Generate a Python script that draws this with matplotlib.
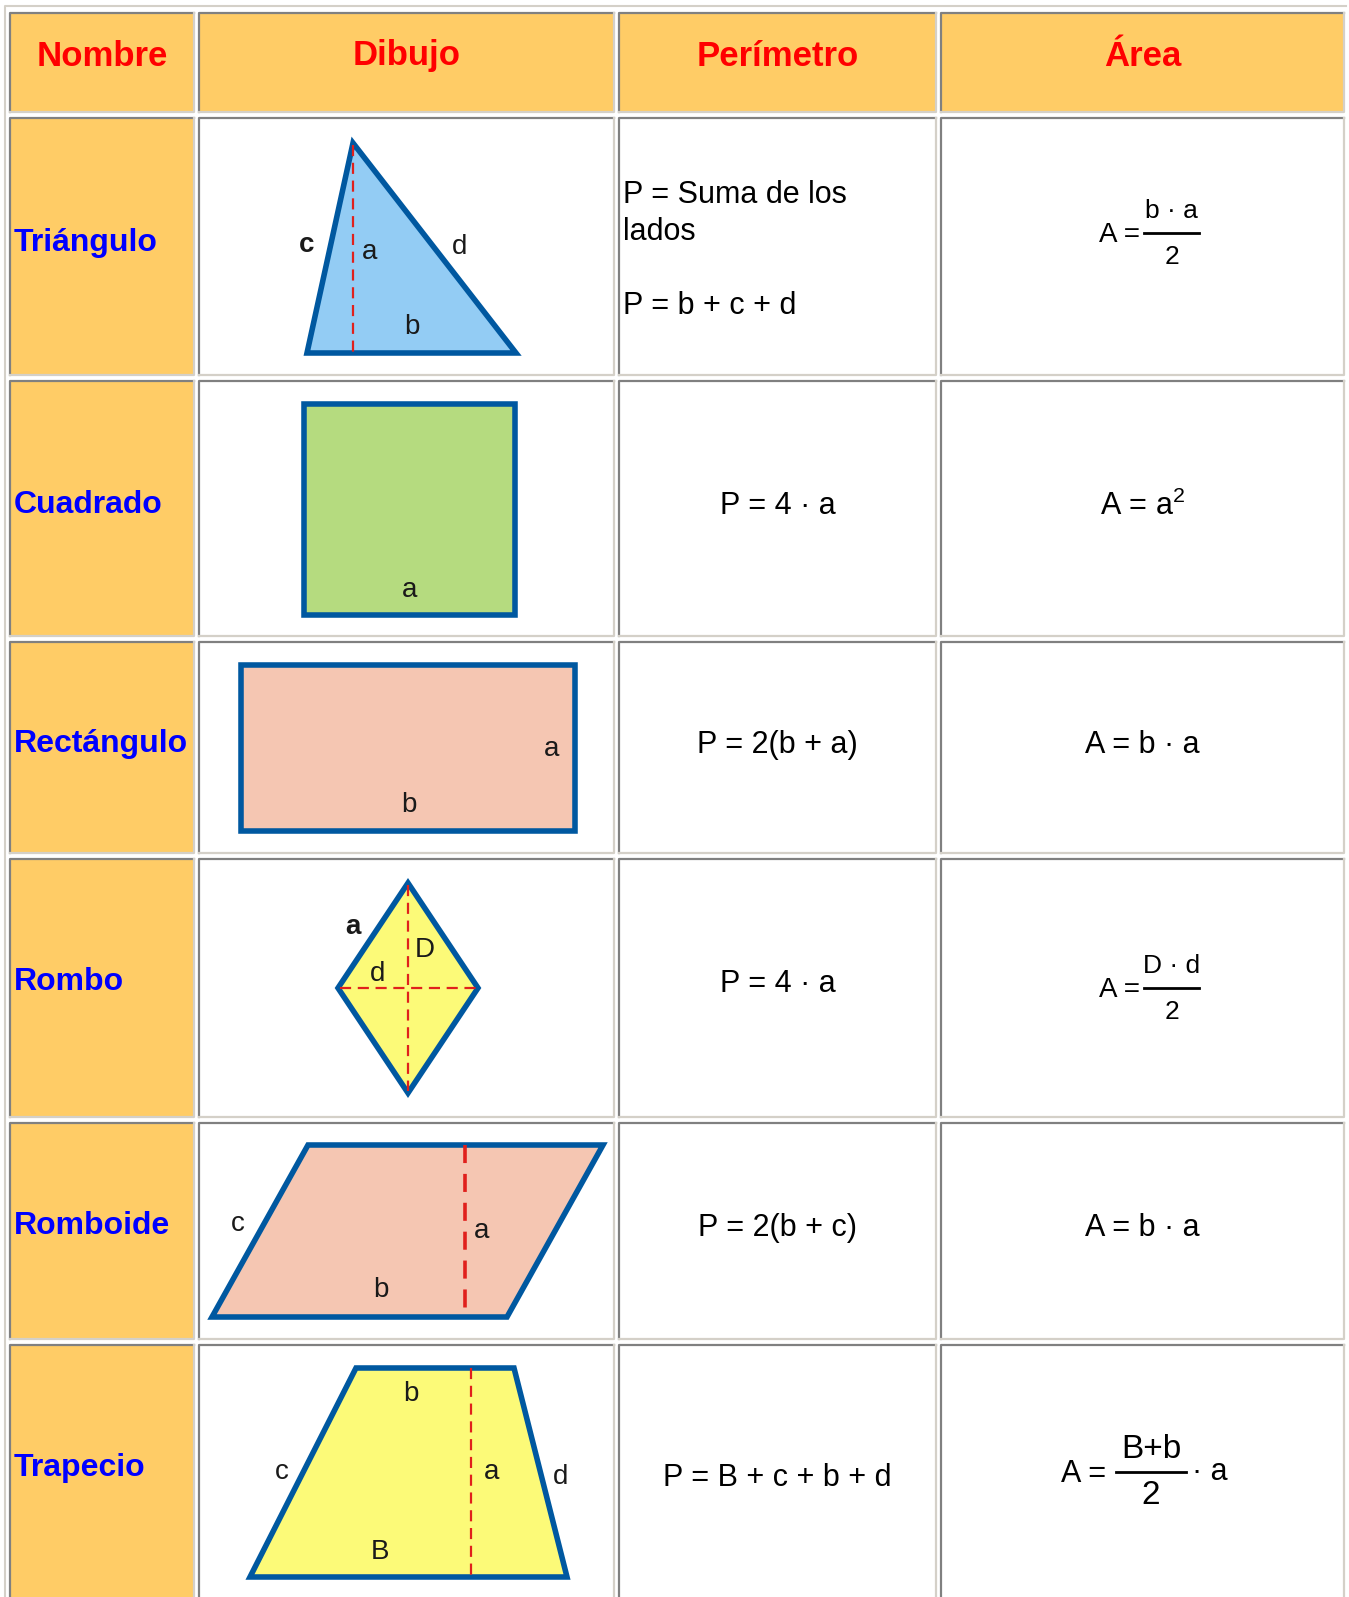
import matplotlib
matplotlib.use('Agg')
import matplotlib.pyplot as plt
from matplotlib.patches import Polygon, Rectangle

plt.rcParams['font.family'] = ['Liberation Sans', 'DejaVu Sans']
plt.rcParams['mathtext.fontset'] = 'custom'
plt.rcParams['mathtext.rm'] = 'Liberation Sans'
plt.rcParams['mathtext.it'] = 'Liberation Sans'

# table content
headers = ['Nombre', 'Dibujo', 'Perímetro', 'Área']
names = ['Triángulo', 'Cuadrado', 'Rectángulo', 'Rombo', 'Romboide', 'Trapecio']
perimetros = [['P = Suma de los', 'lados', '', 'P = b + c + d'],
              'P = 4 · a', 'P = 2(b + a)', 'P = 4 · a', 'P = 2(b + c)',
              'P = B + c + b + d']
# area: plain string, or (numerator, denominator, suffix)
areas = [('b · a', '2', ''), r'A = a$^{2}$', 'A = b · a', ('D · d', '2', ''),
         'A = b · a', ('B+b', '2', '· a')]

# shapes (pixel coords of the original picture)
tri_pts = [(353, 143), (516, 353), (307, 353)]
sq_pts = [(304, 404), (515, 404), (515, 615), (304, 615)]
rect_pts = [(241, 665), (575, 665), (575, 831), (241, 831)]
rombo_pts = [(408, 883), (478, 988), (408, 1093), (338, 988)]
romboide_pts = [(308, 1145), (603, 1145), (507, 1317), (212, 1317)]
trap_pts = [(356, 1368), (514, 1368), (567, 1577), (250, 1577)]

shape_pts = [tri_pts, sq_pts, rect_pts, rombo_pts, romboide_pts, trap_pts]
shape_fill = ['#93CCF4', '#B5DB7F', '#F5C6B2', '#FCFA78', '#F5C6B2', '#FCFA78']

# red dashed heights / diagonals
dashes = [
    [((353, 353), (145, 353))],
    [],
    [],
    [((408, 408), (885, 1091)), ((340, 476), (988, 988))],
    [((465, 465), (1145, 1317))],
    [((471, 471), (1368, 1577))],
]
# side labels (x, y, text, bold)
labels = [
    [(307, 243, 'c', True), (370, 250, 'a', False), (460, 245, 'd', False), (412, 325, 'b', False)],
    [(410, 588, 'a', False)],
    [(552, 747, 'a', False), (409, 803, 'b', False)],
    [(353, 925, 'a', True), (425, 948, 'D', False), (378, 972, 'd', False)],
    [(238, 1222, 'c', False), (482, 1229, 'a', False), (381, 1288, 'b', False)],
    [(411, 1392, 'b', False), (282, 1470, 'c', False), (492, 1470, 'a', False),
     (561, 1475, 'd', False), (380, 1550, 'B', False)],
]

W, H = 1349, 1597
col_edges = [(10, 194), (199, 614), (619, 936), (941, 1344)]
row_edges = [(13, 112), (118, 375), (381, 636), (642, 853), (859, 1117), (1123, 1339), (1345, 1610)]

orange = '#FFCC66'
outline = '#0058A0'
red = '#E0201C'

fig = plt.figure(figsize=(W / 100, H / 100), dpi=100)
ax = fig.add_axes([0, 0, 1, 1])
ax.set_xlim(0, W)
ax.set_ylim(H, 0)
ax.axis('off')

# outer frame
ax.plot([5, 5, W - 3], [H + 5, 6, 6], color='#D4D0C8', lw=1.5)

for r, (y0, y1) in enumerate(row_edges):
    for c, (x0, x1) in enumerate(col_edges):
        fc = orange if (r == 0 or c == 0) else 'white'
        ax.add_patch(Rectangle((x0, y0), x1 - x0, y1 - y0, facecolor=fc, edgecolor='none'))
        ax.plot([x0, x0, x1], [y1, y0, y0], color='#808080', lw=1.6)
        ax.plot([x0, x1, x1], [y1, y1, y0], color='#D4D0C8', lw=1.6)

def cx(c):
    return (col_edges[c][0] + col_edges[c][1]) / 2

for c, h in enumerate(headers):
    ax.text(cx(c), 56, h, color='#FF0000', fontsize=25, fontweight='bold',
            ha='center', va='center')

name_y = [243, 505, 744, 982, 1226, 1468]
for i, n in enumerate(names):
    ax.text(14, name_y[i], n, color='#0000FF', fontsize=23, fontweight='bold',
            ha='left', va='center')

# drawings
for i in range(len(names)):
    ax.add_patch(Polygon(shape_pts[i], closed=True, facecolor=shape_fill[i],
                         edgecolor=outline, lw=4, joinstyle='miter'))
    for xs, ys in dashes[i]:
        ax.plot(xs, ys, color=red, lw=1.6 if i != 4 else 2.6, ls=(0, (5, 3)))
    for x, y, t, b in labels[i]:
        ax.text(x, y + 2, t, fontsize=20, color='#1a1a1a', fontweight='bold' if b else 'normal',
                ha='center', va='center')

# perimeter column
perim_y = [195, 506, 745, 984, 1228, 1478]
for i, p in enumerate(perimetros):
    if isinstance(p, list):
        for k, line in enumerate(p):
            ax.text(623, perim_y[i] + 37 * k, line, fontsize=22, ha='left', va='center')
    else:
        ax.text(cx(2), perim_y[i], p, fontsize=22, ha='center', va='center')

# area column
frac_y = [233, None, None, 988, None, 1472]
for i, a in enumerate(areas):
    if isinstance(a, str):
        ax.text(cx(3), perim_y[i], a, fontsize=22, ha='center', va='center')
        continue
    num, den, suf = a
    y = frac_y[i]
    big = suf != ''
    fs = 24 if big else 19
    xa = 1106 if big else 1140
    xl0, xl1 = (1116, 1186) if big else (1144, 1199)
    ax.text(xa, y + 2, 'A =', fontsize=fs - 2 if big else 20, ha='right', va='center')
    ax.plot([xl0, xl1], [y, y], color='black', lw=2)
    ax.text((xl0 + xl1) / 2, y - 22, num, fontsize=fs, ha='center', va='center')
    ax.text((xl0 + xl1) / 2, y + 24, den, fontsize=fs, ha='center', va='center')
    if suf:
        ax.text(xl1 + 6, y, suf, fontsize=fs - 2, ha='left', va='center')

fig.savefig('out.png', dpi=100)
